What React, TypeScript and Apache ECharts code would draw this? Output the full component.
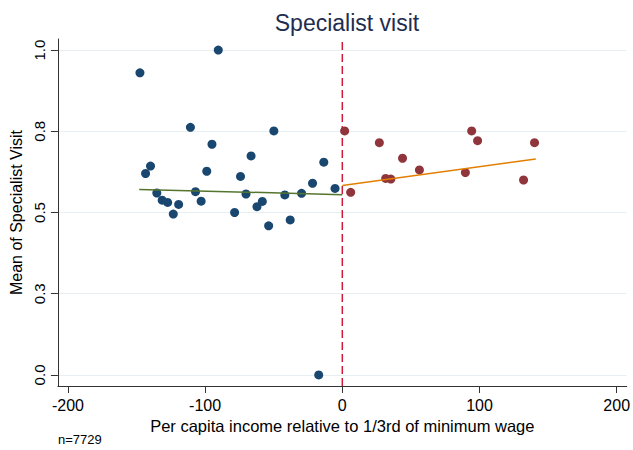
import React, { useEffect, useRef } from "react";
import * as echarts from "echarts";

const leftX = [-147.5, -90.4, -110.7, -49.9, -95.0, -66.5, -139.8, -143.4, -98.8, -74.2, -13.5, -21.7, -5.3, -135.2, -107.0, -70.2, -41.9, -29.7, -131.3, -127.3, -102.9, -119.3, -123.2, -78.5, -58.3, -62.2, -38.0, -53.7, -17.2];
const leftY = [0.930, 1.000, 0.762, 0.751, 0.710, 0.674, 0.643, 0.620, 0.627, 0.611, 0.655, 0.590, 0.574, 0.560, 0.564, 0.557, 0.554, 0.559, 0.538, 0.531, 0.535, 0.525, 0.495, 0.500, 0.534, 0.518, 0.477, 0.459, 0.0];
const rightX = [1.7, 6.1, 27.0, 31.6, 35.4, 43.9, 56.2, 89.7, 94.3, 98.6, 132.1, 140.1];
const rightY = [0.751, 0.562, 0.715, 0.605, 0.603, 0.667, 0.631, 0.623, 0.751, 0.721, 0.600, 0.715];
const leftFitX = [-148, 0];
const leftFitY = [0.571, 0.555];
const rightFitX = [0, 141];
const rightFitY = [0.583, 0.665];
const xTickValues = [-200, -100, 0, 100, 200];
const xTickLabels = ["-200", "-100", "0", "100", "200"];
const yTickValues = [0, 0.25, 0.5, 0.75, 1];
const yTickLabels = ["0.0", "0.3", "0.5", "0.8", "1.0"];
const cutoffX = 0;
const xRange = [-207.3, 207.3];
const yRange = [-0.034, 1.034];

const FONT = "Liberation Sans, Arial, sans-serif";

export default function App() {
  const ref = useRef<HTMLDivElement>(null);
  useEffect(() => {
    if (!ref.current) return;
    const chart = echarts.init(ref.current, null, { renderer: "svg" });
    const zip = (xs: number[], ys: number[]) => xs.map((x, i) => [x, ys[i]]);
    chart.setOption({
      animation: false,
      backgroundColor: "#ffffff",
      textStyle: { fontFamily: FONT },
      title: {
        text: "Specialist visit",
        left: 342,
        textAlign: "center",
        top: 6,
        textStyle: { fontSize: 23, fontWeight: "normal", color: "#1e2d50", fontFamily: FONT },
      },
      grid: { left: 55, right: 4.7, top: 39, bottom: 64, containLabel: false },
      xAxis: {
        type: "value",
        min: xRange[0],
        max: xRange[1],
        axisLine: { show: true, onZero: false, lineStyle: { color: "#333333", width: 1 } },
        axisTick: { show: true, length: 7, customValues: xTickValues, lineStyle: { color: "#333333" } },
        axisLabel: {
          customValues: xTickValues,
          formatter: (v: number) => xTickLabels[xTickValues.indexOf(v)] ?? "",
          fontSize: 16,
          color: "#000000",
          margin: 11,
          fontFamily: FONT,
        },
        splitLine: { show: false },
        name: "Per capita income relative to 1/3rd of minimum wage",
        nameLocation: "middle",
        nameGap: 26,
        nameTextStyle: { fontSize: 16.5, color: "#000000", fontFamily: FONT },
      },
      yAxis: {
        type: "value",
        min: yRange[0],
        max: yRange[1],
        axisLine: { show: true, onZero: false, lineStyle: { color: "#333333", width: 1 } },
        axisTick: { show: true, length: 7, customValues: yTickValues, lineStyle: { color: "#333333" } },
        axisLabel: {
          customValues: yTickValues,
          formatter: (v: number) => yTickLabels[yTickValues.indexOf(v)] ?? "",
          rotate: 90,
          fontSize: 15,
          color: "#000000",
          margin: 11,
          fontFamily: FONT,
        },
        splitLine: { show: false },
        name: "Mean of Specialist Visit",
        nameLocation: "middle",
        nameRotate: 90,
        nameGap: 27,
        nameTextStyle: { fontSize: 16, color: "#000000", fontFamily: FONT },
      },
      series: [
        {
          type: "line",
          data: [[cutoffX, yRange[0]], [cutoffX, yRange[1]]],
          symbol: "none",
          clip: false,
          z: 1,
          lineStyle: { color: "#d01c3a", width: 1.5, type: [8, 4] },
          markLine: {
            silent: true,
            symbol: "none",
            label: { show: false },
            lineStyle: { color: "#e6eff1", type: "solid", width: 1.2 },
            data: yTickValues.map((v) => ({ yAxis: v })),
            z: 0,
          },
        },
        {
          type: "scatter",
          data: zip(leftX, leftY),
          symbolSize: 9,
          clip: false,
          z: 3,
          itemStyle: { color: "#1a476f", opacity: 1 },
        },
        {
          type: "scatter",
          data: zip(rightX, rightY),
          symbolSize: 9,
          clip: false,
          z: 3,
          itemStyle: { color: "#90353b", opacity: 1 },
        },
        {
          type: "line",
          data: zip(leftFitX, leftFitY),
          symbol: "none",
          z: 4,
          lineStyle: { color: "#55752f", width: 1.5 },
        },
        {
          type: "line",
          data: zip(rightFitX, rightFitY),
          symbol: "none",
          z: 4,
          lineStyle: { color: "#e37e00", width: 1.5 },
        },
      ],
      graphic: [
        {
          type: "text",
          left: 58,
          top: 433,
          style: { text: "n=7729", fontSize: 13, fill: "#000000", fontFamily: FONT },
        },
      ],
    });
    return () => chart.dispose();
  }, []);
  return <div ref={ref} style={{ width: 633, height: 450, position: "absolute", left: 0, top: 0 }} />;
}
